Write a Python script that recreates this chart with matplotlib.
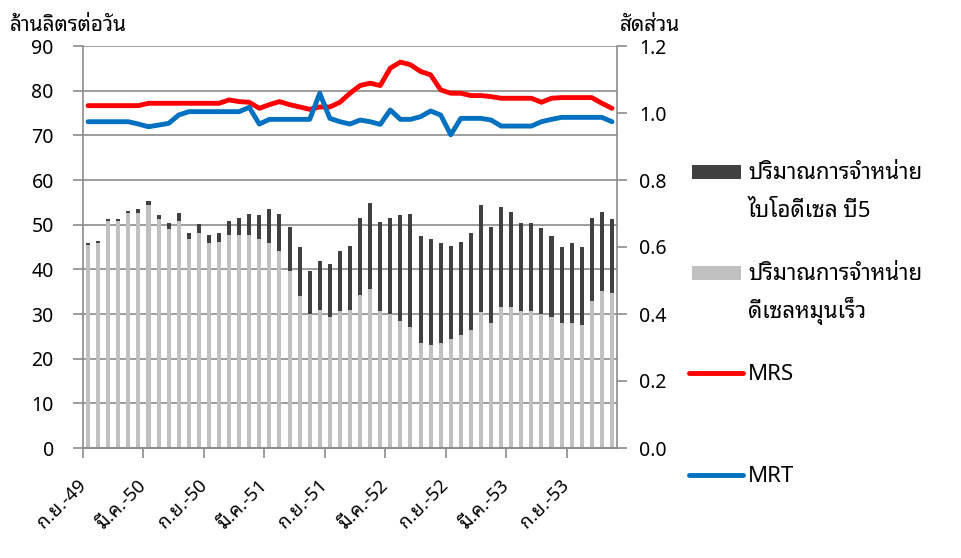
import matplotlib
matplotlib.use("Agg")
import matplotlib.pyplot as plt
import matplotlib.transforms as mtrans
import numpy as np
from matplotlib.patches import Rectangle
from matplotlib.lines import Line2D

plt.rcParams['font.family'] = ['Noto Sans Thai Looped', 'DejaVu Sans']

# Monthly data from ก.ย.-49 (Sep 2006), 53 months
total = [45.8, 46.3, 51.3, 51.3, 53.1, 53.5, 55.3, 52.2, 50.3, 52.7,
         48.2, 50.1, 47.7, 48.2, 50.8, 51.6, 52.5, 52.2, 53.4, 52.5,
         49.4, 44.9, 39.7, 41.9, 41.3, 44.1, 45.3, 51.6, 54.8, 50.7,
         51.6, 52.2, 52.5, 47.5, 46.7, 45.8, 45.3, 46.2, 48.1, 54.4,
         49.4, 53.9, 52.9, 50.3, 50.3, 49.3, 47.5, 44.9, 45.8, 44.9,
         51.6, 52.9, 51.2]
hsd = [45.4, 45.9, 50.9, 50.9, 52.7, 52.7, 54.4, 51.2, 49.0, 50.8,
       46.7, 48.1, 45.8, 46.2, 47.7, 47.7, 47.7, 46.7, 45.8, 44.1,
       39.6, 34.1, 30.1, 31.0, 29.4, 30.6, 31.0, 34.2, 35.6, 30.6,
       29.9, 28.4, 27.1, 23.4, 23.0, 23.4, 24.3, 25.3, 26.5, 30.5,
       27.9, 31.5, 31.5, 30.6, 30.6, 29.9, 29.4, 28.0, 28.0, 27.5,
       32.9, 35.1, 34.6]
b5 = [t - h for t, h in zip(total, hsd)]

mrs = [1.022, 1.022, 1.022, 1.022, 1.022, 1.022, 1.029, 1.029, 1.029, 1.029,
       1.029, 1.029, 1.029, 1.029, 1.039, 1.034, 1.032, 1.014, 1.025, 1.034,
       1.025, 1.018, 1.011, 1.018, 1.018, 1.032, 1.059, 1.082, 1.089, 1.082,
       1.134, 1.152, 1.144, 1.124, 1.114, 1.069, 1.059, 1.059, 1.052, 1.052,
       1.049, 1.044, 1.044, 1.044, 1.044, 1.032, 1.044, 1.046, 1.046, 1.046,
       1.046, 1.029, 1.014]
mrt = [0.974, 0.974, 0.974, 0.974, 0.974, 0.967, 0.959, 0.964, 0.969, 0.994,
       1.004, 1.004, 1.004, 1.004, 1.004, 1.004, 1.017, 0.967, 0.981, 0.981,
       0.981, 0.981, 0.981, 1.059, 0.984, 0.974, 0.967, 0.979, 0.974, 0.966,
       1.009, 0.981, 0.981, 0.989, 1.006, 0.994, 0.935, 0.984, 0.984, 0.984,
       0.979, 0.961, 0.961, 0.961, 0.961, 0.974, 0.981, 0.987, 0.987, 0.987,
       0.987, 0.987, 0.974]

tick_labels = ['ก.ย.-49', 'มี.ค.-50', 'ก.ย.-50', 'มี.ค.-51', 'ก.ย.-51',
               'มี.ค.-52', 'ก.ย.-52', 'มี.ค.-53', 'ก.ย.-53']

label_b5 = 'ปริมาณการจำหน่าย\nไบโอดีเซล บี5'
label_hsd = 'ปริมาณการจำหน่าย\nดีเซลหมุนเร็ว'
label_mrs = 'MRS'
label_mrt = 'MRT'

C_B5 = '#404040'
C_HSD = '#c0c0c0'
C_MRS = '#ff0000'
C_MRT = '#0070c0'

n = len(total)
x = np.arange(n)

W, H = 961, 558
fig = plt.figure(figsize=(W / 100, H / 100), dpi=100)
ax = fig.add_axes([83 / W, 1 - 448 / H, (617 - 83) / W, (448 - 46) / H])
ax2 = ax.twinx()

grid_c = '#8c8c8c'
for v in range(10, 100, 10):
    ax.axhline(v, color=grid_c, lw=1.2, zorder=0)

ax.bar(x, hsd, width=0.4, color=C_HSD, zorder=2)
ax.bar(x, b5, width=0.4, bottom=hsd, color=C_B5, zorder=2)

ax2.plot(x, mrs, color=C_MRS, lw=3.5, solid_joinstyle='round', solid_capstyle='round')
ax2.plot(x, mrt, color=C_MRT, lw=3.5, solid_joinstyle='round', solid_capstyle='round')

ax.set_xlim(-0.5, n - 0.5)
ax.set_ylim(0, 90)
ax2.set_ylim(0, 1.2)
ax.set_yticks(range(0, 91, 10))
rt = np.arange(0, 1.21, 0.2)
ax2.set_yticks(rt)
ax2.set_yticklabels([f'{v:.1f}' for v in rt])

tick_pos = (np.arange(0, n, 6) - 0.5)[:len(tick_labels)]
ax.set_xticks(tick_pos)
ax.set_xticklabels(tick_labels, rotation=45, ha='right', va='center',
                   rotation_mode='anchor', fontsize=13.5)
off = mtrans.ScaledTranslation(11 / 100, 0, fig.dpi_scale_trans)
for lab in ax.get_xticklabels():
    lab.set_transform(lab.get_transform() + off)

for a in (ax, ax2):
    a.spines['top'].set_visible(False)
    for s in ('left', 'right', 'bottom'):
        a.spines[s].set_color(grid_c)
        a.spines[s].set_linewidth(1.2)
    a.tick_params(colors=grid_c, labelcolor='black', length=7, width=1.2, labelsize=14)
ax2.spines['left'].set_visible(False)
ax.spines['right'].set_visible(False)
ax.tick_params(axis='x', pad=18, labelsize=13.5)
ax.tick_params(axis='y', pad=14)
ax2.tick_params(axis='y', pad=9)

fig.text(10 / W, 1 - 31 / H, 'ล้านลิตรต่อวัน', fontsize=15, va='baseline', ha='left')
fig.text(620 / W, 1 - 31 / H, 'สัดส่วน', fontsize=15, va='baseline', ha='left')

# legend (Excel-style, evenly spaced entries, first text line aligned with key)
entries = [('patch', C_B5, label_b5, 172),
           ('patch', C_HSD, label_hsd, 273),
           ('line', C_MRS, label_mrs, 373),
           ('line', C_MRT, label_mrt, 475)]
for kind, col, lab, yc in entries:
    if kind == 'patch':
        fig.add_artist(Rectangle((692 / W, 1 - (yc + 7) / H), 49 / W, 14 / H,
                                 transform=fig.transFigure, facecolor=col, edgecolor='none'))
    else:
        fig.add_artist(Line2D([689 / W, 743 / W], [1 - yc / H, 1 - yc / H],
                              transform=fig.transFigure, color=col, lw=3.5,
                              solid_capstyle='round'))
    for j, line in enumerate(lab.split('\n')):
        fig.text(748 / W, 1 - (yc + 7 + 38 * j) / H, line, fontsize=16,
                 va='baseline', ha='left')

fig.savefig('out.png')
